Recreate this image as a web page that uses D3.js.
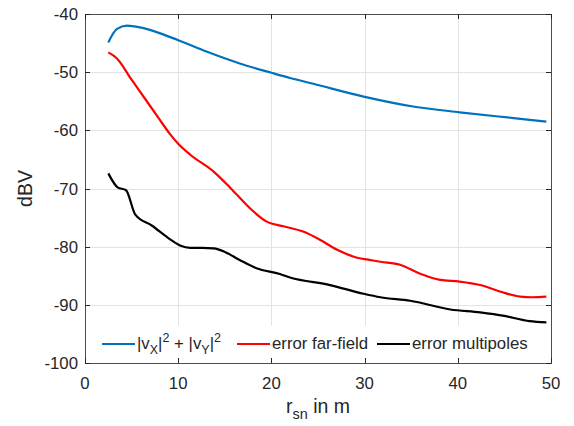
<!DOCTYPE html>
<html>
<head>
<meta charset="utf-8">
<script src="https://cdn.jsdelivr.net/npm/d3@7"></script>
<style>
  body { margin: 0; background: #fff; }
  svg text { font-family: "Liberation Sans", Arial, sans-serif; fill: #262626; }
</style>
</head>
<body>
<div id="chart"></div>
<script>
// distances r_sn in m, values in dBV
const rBlue = [2.5, 3.4, 4.5, 5.9, 7.3, 10, 13.1, 16.6, 20, 22, 24.5, 29.9, 35.2, 40.2, 46, 49.5]
const vBlue = [-44.9, -42.6, -42.0, -42.3, -42.9, -44.5, -46.5, -48.5, -50.1, -51.0, -52.0, -54.2, -55.9, -56.9, -57.9, -58.5]

const rRed = [2.5, 3.4, 5, 6.5, 7.9, 9.1, 10, 11.3, 13.8, 15.6, 17.7, 19.5, 21.3, 23.4, 25.2, 27, 29.2, 30.6, 31.7, 33.8, 35.9, 38.1, 40.2, 42.4, 44.5, 46.7, 48, 49.5]
const vRed = [-46.6, -47.6, -51.3, -54.7, -57.9, -60.6, -62.3, -64.2, -67.1, -69.9, -73.4, -75.7, -76.5, -77.4, -78.8, -80.5, -81.9, -82.3, -82.6, -83.1, -84.6, -85.7, -86.0, -86.6, -87.7, -88.6, -88.7, -88.6]

const rBlack = [2.5, 3.5, 4.4, 5.4, 7.2, 9.1, 10.2, 11.3, 12.6, 13.8, 15, 16.6, 18.4, 20.9, 22, 26.3, 29.9, 31.7, 34.9, 39.2, 42.4, 45, 47.7, 49.5]
const vBlack = [-67.4, -69.8, -70.3, -74.5, -76.4, -78.7, -79.8, -80.2, -80.2, -80.3, -80.9, -82.3, -83.7, -84.7, -85.3, -86.6, -88.1, -88.7, -89.3, -90.8, -91.3, -91.9, -92.8, -93.0]

const xTicks = [0, 10, 20, 30, 40, 50]
const yTicks = [-100, -90, -80, -70, -60, -50, -40]

const series = [
  { name: "blue", r: rBlue, v: vBlue, color: "#0072BD" },
  { name: "red", r: rRed, v: vRed, color: "#FF0000" },
  { name: "black", r: rBlack, v: vBlack, color: "#000000" }
]

const width = 574
const height = 426
const margin = { left: 85, right: 23, top: 14, bottom: 63 }
const fs = 16.8

const svg = d3.select("#chart").append("svg")
  .attr("width", width)
  .attr("height", height)

const x = d3.scaleLinear().domain([0, 50]).range([margin.left, width - margin.right])
const y = d3.scaleLinear().domain([-100, -40]).range([height - margin.bottom, margin.top])

// grid
const grid = svg.append("g").attr("stroke", "#e3e3e3").attr("stroke-width", 1)
grid.selectAll(".gx").data(xTicks.slice(1, -1)).join("line")
  .attr("x1", d => Math.round(x(d)) + 0.5).attr("x2", d => Math.round(x(d)) + 0.5)
  .attr("y1", y(-100)).attr("y2", y(-40))
grid.selectAll(".gy").data(yTicks.slice(1, -1)).join("line")
  .attr("x1", x(0)).attr("x2", x(50))
  .attr("y1", d => Math.round(y(d)) + 0.5).attr("y2", d => Math.round(y(d)) + 0.5)

// curves
const line = d3.line().curve(d3.curveMonotoneX)
  .x(d => x(d[0])).y(d => y(d[1]))
svg.append("g").selectAll("path").data(series).join("path")
  .attr("fill", "none")
  .attr("stroke", d => d.color)
  .attr("stroke-width", 2.2)
  .attr("stroke-linejoin", "round")
  .attr("d", d => line(d.r.map((r, i) => [r, d.v[i]])))

// legend (white background, no border)
const lg = svg.append("g")
lg.append("rect").attr("x", 97).attr("y", 326).attr("width", 450).attr("height", 36).attr("fill", "#fff")
const items = [
  { color: "#0072BD", x0: 102 },
  { color: "#FF0000", x0: 237 },
  { color: "#000000", x0: 377 }
]
lg.selectAll("line").data(items).join("line")
  .attr("x1", d => d.x0).attr("x2", d => d.x0 + 33)
  .attr("y1", 344).attr("y2", 344)
  .attr("stroke", d => d.color).attr("stroke-width", 2.2)
const t1 = lg.append("text").attr("x", 137).attr("y", 349).attr("font-size", fs)
t1.append("tspan").text("|v")
t1.append("tspan").attr("dy", 5).attr("font-size", 12.5).text("X")
t1.append("tspan").attr("dy", -5).text("|")
t1.append("tspan").attr("dy", -7).attr("font-size", 12.5).text("2")
t1.append("tspan").attr("dy", 7).text(" + |v")
t1.append("tspan").attr("dy", 5).attr("font-size", 12.5).text("Y")
t1.append("tspan").attr("dy", -5).text("|")
t1.append("tspan").attr("dy", -7).attr("font-size", 12.5).text("2")
lg.append("text").attr("x", 272).attr("y", 349).attr("font-size", fs).text("error far-field")
lg.append("text").attr("x", 412).attr("y", 349).attr("font-size", fs).text("error multipoles")

// axes box
const ax = svg.append("g").attr("stroke", "#262626").attr("stroke-width", 1).attr("fill", "none")
ax.append("rect")
  .attr("x", x(0) + 0.5).attr("y", y(-40) + 0.5)
  .attr("width", x(50) - x(0)).attr("height", y(-100) - y(-40))
  .attr("stroke", "#4d4d4d")
const tl = 5
xTicks.forEach(t => {
  const px = Math.round(x(t)) + 0.5
  ax.append("line").attr("x1", px).attr("x2", px).attr("y1", y(-100)).attr("y2", y(-100) - tl)
  ax.append("line").attr("x1", px).attr("x2", px).attr("y1", y(-40)).attr("y2", y(-40) + tl)
})
yTicks.forEach(t => {
  const py = Math.round(y(t)) + 0.5
  ax.append("line").attr("x1", x(0)).attr("x2", x(0) + tl).attr("y1", py).attr("y2", py)
  ax.append("line").attr("x1", x(50)).attr("x2", x(50) - tl).attr("y1", py).attr("y2", py)
})

// tick labels
svg.append("g").selectAll("text").data(xTicks).join("text")
  .attr("x", d => x(d)).attr("y", y(-100) + 26)
  .attr("text-anchor", "middle").attr("font-size", fs)
  .text(d => d)
svg.append("g").selectAll("text").data(yTicks).join("text")
  .attr("x", x(0) - 7).attr("y", d => y(d) + 6)
  .attr("text-anchor", "end").attr("font-size", fs)
  .text(d => d)

// axis labels
const xl = svg.append("text").attr("x", x(25)).attr("y", 413)
  .attr("text-anchor", "middle").attr("font-size", 19.5)
xl.append("tspan").text("r")
xl.append("tspan").attr("dy", 6).attr("font-size", 14.5).text("sn")
xl.append("tspan").attr("dy", -6).text(" in m")

svg.append("text")
  .attr("transform", `translate(32,${y(-70)}) rotate(-90)`)
  .attr("text-anchor", "middle").attr("font-size", 19.5)
  .text("dBV")
</script>
</body>
</html>
